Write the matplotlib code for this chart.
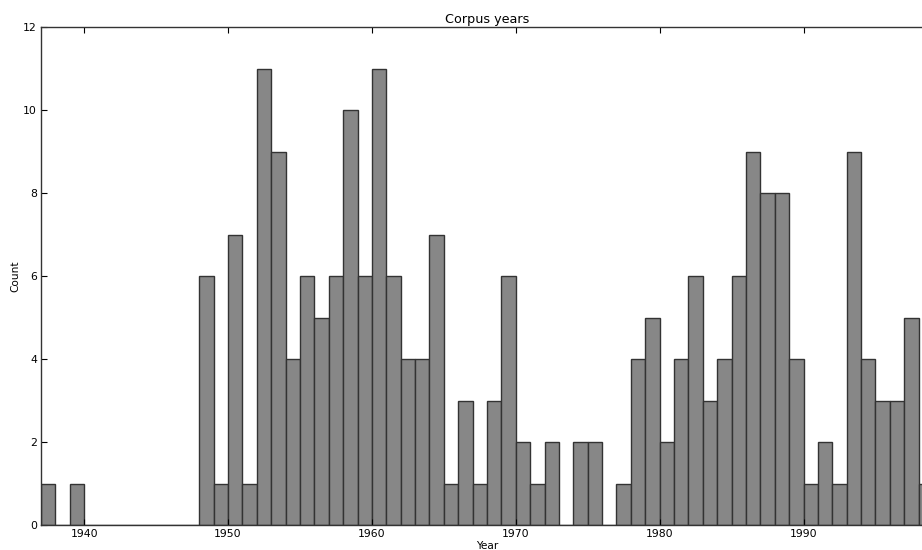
import numpy as np
import matplotlib
matplotlib.use('Agg')
import matplotlib.pyplot as plt

# publication counts per year
years = np.arange(1937, 1999)
counts = [1, 0, 1, 0, 0, 0, 0, 0, 0, 0, 0,
          6, 1, 7, 1, 11, 9, 4, 6, 5, 6, 10, 6, 11, 6, 4, 4, 7, 1, 3, 1, 3, 6,
          2, 1, 2, 0, 2, 2, 0, 1, 4, 5, 2, 4, 6, 3, 4, 6, 9, 8, 8, 4,
          1, 2, 1, 9, 4, 3, 3, 5, 1]

fig = plt.figure(figsize=(9.22, 5.5), dpi=100)
# axes runs a little past the right edge of the figure
ax = fig.add_axes([41/922, 25/550, 892/922, 498/550])

ax.bar(years, counts, width=1, align='edge', color='#878787',
       edgecolor='#333333', linewidth=1.0)

ax.set_xlim(1937, 1999)
ax.set_ylim(0, 12)
ax.set_xticks([1940, 1950, 1960, 1970, 1980, 1990])
ax.set_yticks(range(0, 13, 2))
ax.tick_params(axis='both', direction='in', length=4, width=0.8,
               top=True, right=True, labelsize=7.8, pad=3)
for s in ax.spines.values():
    s.set_linewidth(1.0)
    s.set_color('#333333')

ax.set_title('Corpus years', fontsize=9.2, pad=3)
ax.set_xlabel('Year', fontsize=7.6, labelpad=1)
ax.set_ylabel('Count', fontsize=7.6, labelpad=2)

fig.savefig('out.png', dpi=100)
